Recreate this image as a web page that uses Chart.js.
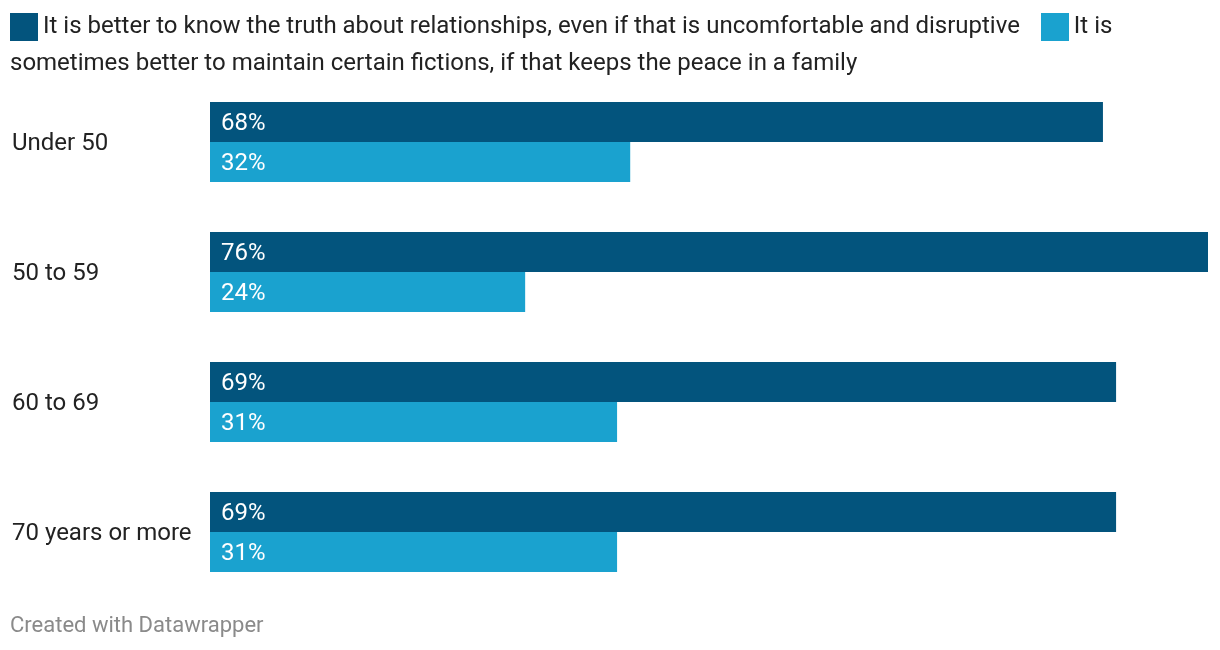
<!DOCTYPE html>
<html>
<head>
<meta charset="utf-8">
<script src="https://cdn.jsdelivr.net/npm/chart.js@4.4.0/dist/chart.umd.min.js"></script>
<style>
  body { margin: 0; background: #fff; font-family: Roboto, sans-serif; }
  #wrap { position: relative; width: 1220px; height: 650px; }
  #legend { position: absolute; left: 10px; top: 7px; width: 1200px; font-size: 24px; line-height: 37px; color: #222; }
  .sw { display: inline-block; width: 28px; height: 28px; vertical-align: -8px; margin-right: 5px; }
  .item { margin-right: 15px; }
  #footer { position: absolute; left: 10px; top: 612px; font-size: 22px; color: #8a8a8a; }
  #chart { position: absolute; left: 0; top: 0; }
</style>
</head>
<body>
<div id="wrap">
  <canvas id="chart" width="1220" height="650"></canvas>
  <div id="legend"></div>
  <div id="footer">Created with Datawrapper</div>
</div>
<script>
const categories = ["Under 50", "50 to 59", "60 to 69", "70 years or more"];
const seriesNames = [
  "It is better to know the truth about relationships, even if that is uncomfortable and disruptive",
  "It is sometimes better to maintain certain fictions, if that keeps the peace in a family"
];
const truthValues = [68, 76, 69, 69];
const fictionValues = [32, 24, 31, 31];
const colors = ["#03547d", "#1aa2cf"];

document.addEventListener("DOMContentLoaded", () => {
  // legend as html so it wraps like the original
  const legend = document.getElementById("legend");
  legend.innerHTML = seriesNames.map((name, i) =>
    '<span class="item"><span class="sw" style="background:' + colors[i] + '"></span>' + name + '</span>'
  ).join(" ");

  const barLabels = {
    id: "barLabels",
    afterDatasetsDraw(chart) {
      const c = chart.ctx;
      c.save();
      c.font = "24px Roboto, sans-serif";
      c.fillStyle = "#fff";
      c.textAlign = "left";
      c.textBaseline = "middle";
      chart.data.datasets.forEach((ds, di) => {
        chart.getDatasetMeta(di).data.forEach((bar, i) => {
          c.fillText(ds.data[i] + "%", bar.base + 11, bar.y + 2);
        });
      });
      c.restore();
    }
  };

  new Chart(document.getElementById("chart").getContext("2d"), {
    type: "bar",
    data: {
      labels: categories,
      datasets: [
        { label: seriesNames[0], data: truthValues, backgroundColor: colors[0] },
        { label: seriesNames[1], data: fictionValues, backgroundColor: colors[1] }
      ]
    },
    options: {
      indexAxis: "y",
      responsive: false,
      animation: false,
      layout: { padding: { left: 12, right: 12, top: 77, bottom: 53 } },
      datasets: { bar: { categoryPercentage: 80 / 130, barPercentage: 1 } },
      plugins: { legend: { display: false }, tooltip: { enabled: false } },
      scales: {
        x: { display: false, min: 0, max: Math.max(...truthValues, ...fictionValues) },
        y: {
          grid: { display: false },
          border: { display: false },
          afterFit(scale) { scale.width = 198; },
          ticks: { crossAlign: "far", labelOffset: 2, color: "#222", font: { family: "Roboto", size: 24 }, padding: 0 }
        }
      }
    },
    plugins: [barLabels]
  });
});
</script>
</body>
</html>
